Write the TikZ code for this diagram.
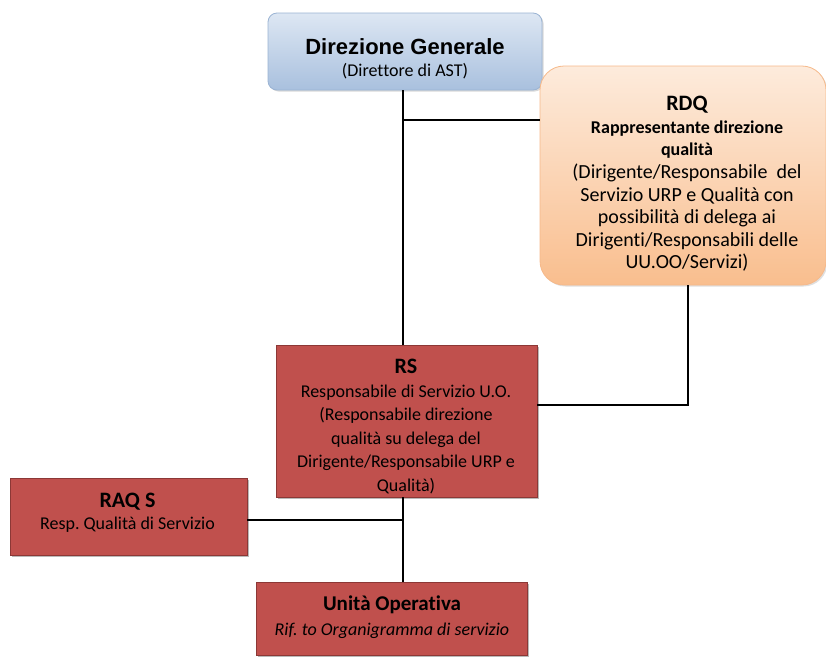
\documentclass[tikz,border=0pt]{standalone}
\usepackage{fontspec}
\setmainfont{Carlito}[Ligatures=CommonOff]
\newfontfamily\arialbf{Liberation Sans}
\usetikzlibrary{shadows}
\definecolor{redbox}{HTML}{C0504D}
\definecolor{redline}{HTML}{8C3836}
\definecolor{bluetop}{HTML}{DDE7F3}
\definecolor{bluebot}{HTML}{A9C0DE}
\definecolor{blueline}{HTML}{9AB3D3}
\definecolor{ortop}{HTML}{FDEBDC}
\definecolor{orbot}{HTML}{F9BE8E}
\definecolor{orline}{HTML}{F6B98A}
\tikzset{
  redstyle/.style={draw=redline, line width=0.6pt, fill=redbox,
    drop shadow={shadow xshift=2pt, shadow yshift=-2pt, fill=black!45, opacity=0.6}},
  txt/.style={align=center, inner sep=0pt},
  link/.style={line width=1.8pt, draw=black}
}
\begin{document}
\frenchspacing
\begin{tikzpicture}[x=1pt,y=-1pt]
\useasboundingbox (0,0) rectangle (826,657);
% Direzione Generale
\node[draw=blueline, line width=0.8pt, rounded corners=9pt, top color=bluetop, bottom color=bluebot,
  minimum width=274pt, minimum height=77pt,
  drop shadow={shadow xshift=1.5pt, shadow yshift=-1.5pt, fill=black!30, opacity=0.5}]
  (dg) at (405,51.5) {};
\node[txt, font=\fontsize{18}{22}\selectfont] (dgt) at (405,59)
  {{\arialbf\bfseries\fontsize{22}{22}\selectfont Direzione Generale}\\ (Direttore di AST)};
% RDQ
\node[draw=orline, line width=0.8pt, rounded corners=24pt, top color=ortop, bottom color=orbot,
  minimum width=286pt, minimum height=219pt,
  drop shadow={shadow xshift=1.5pt, shadow yshift=-1.5pt, fill=black!25, opacity=0.5}]
  (rdq) at (683,175.5) {};
\node[txt, font=\fontsize{20}{22.6}\selectfont] (rdqt) at (687,184)
  {{\bfseries\fontsize{22}{22.6}\selectfont RDQ}\\
  {\bfseries\fontsize{18}{22.6}\selectfont Rappresentante direzione}\\
  {\bfseries\fontsize{18}{22.6}\selectfont qualità}\\
  (Dirigente/Responsabile\ \ del\\ Servizio URP e Qualità con\\ possibilità di delega ai\\ Dirigenti/Responsabili delle\\ UU.OO/Servizi)};
% RS
\node[redstyle, minimum width=261pt, minimum height=152pt] (rs) at (406.5,421) {};
\node[txt, font=\fontsize{18}{23.5}\selectfont] (rst) at (406,426.5)
  {{\bfseries\fontsize{22}{23.5}\selectfont RS}\\
  Responsabile di Servizio U.O.\\ (Responsabile direzione\\ qualità su delega del\\ Dirigente/Responsabile URP e\\ Qualità)};
% RAQ S
\node[redstyle, minimum width=237pt, minimum height=77pt] (raq) at (128.5,516.5) {};
\node[txt, font=\fontsize{18}{21.5}\selectfont] (raqt) at (127.5,512.5)
  {{\bfseries\fontsize{22}{21.5}\selectfont RAQ S}\\ Resp. Qualità di Servizio};
% Unita Operativa
\node[redstyle, anchor=north, minimum width=271pt, minimum height=73pt] (uo) at (391.5,582) {};
\node[txt, font=\fontsize{18}{25}\selectfont] (uot) at (392,617)
  {{\bfseries\fontsize{21}{25}\selectfont Unità Operativa}\\ \textit{Rif. to Organigramma di servizio}};
% junctions
\coordinate (j1) at (403,120);
\coordinate (j2) at (688,405);
\coordinate (j3) at (403,520);
% connectors
\draw[link] (dg.south -| j1) -- (rs.north -| j1);
\draw[link] (j1) -- (j1 -| rdq.west);
\draw[link] (rdq.south -| j2) -- (j2) -- (j2 -| rs.east);
\draw[link] (rs.south -| j1) -- (uo.north -| j1);
\draw[link] (j3 -| raq.east) -- (j3);
\end{tikzpicture}
\end{document}
